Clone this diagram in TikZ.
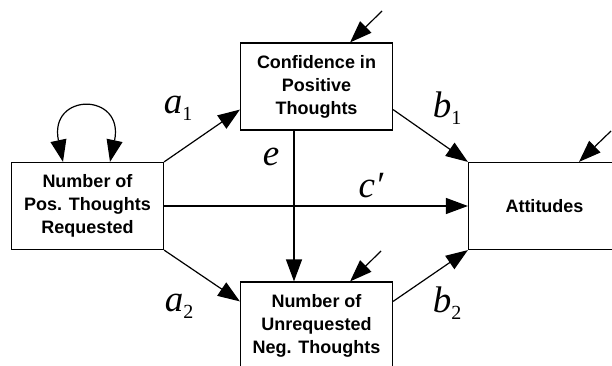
\documentclass[tikz,border=0pt]{standalone}
\usepackage{fontspec}
\setmainfont{Liberation Sans}
\newfontfamily\pathfont{Liberation Serif}
\usetikzlibrary{positioning,arrows.meta,calc}

% path labels: italic letter with lowered index
\newcommand{\pathlab}[2]{{\pathfont\fontsize{37}{37}\selectfont\itshape #1}{\pathfont\fontsize{20}{20}\selectfont\raisebox{-7pt}{#2}}}

\begin{document}
\begin{tikzpicture}[x=1pt,y=1pt,>={Triangle[length=22pt,width=16pt]},line width=1.2pt,
  var/.style={draw,minimum width=152pt,minimum height=87pt,align=center,
    font=\fontsize{18}{23}\selectfont\bfseries},
  lab/.style={inner sep=0pt}]
\useasboundingbox (0,0) rectangle (612,-366);
\node[var] (src) at (87.5,-206) {Number of\\Pos. Thoughts\\Requested};
\node[var] (conf) at (316.5,-86.5) {Confidence in\\Positive\\Thoughts};
\node[var] (unreq) at (316.5,-325.5) {Number of\\Unrequested\\Neg. Thoughts};
\node[var] (att) at (544.5,-206) {Attitudes};
% disturbances
\coordinate (dc) at (382,-11);
\coordinate (du) at (381,-251);
\coordinate (da) at (611,-131);
\draw[->] (dc) -- ([xshift=-43pt]conf.north east);
\draw[->] (du) -- ([xshift=-43pt]unreq.north east);
\draw[->] (da) -- ([xshift=34.5pt]att.north);
% variance of the manipulated factor
\draw[<->] ([xshift=-24.5pt]src.north) to[out=102,in=78,looseness=3.9] ([xshift=22.5pt]src.north);
% paths
\draw[->] (src.north east) -- ([yshift=21pt]conf.south west);
\draw[->] (src.south east) -- ([yshift=-20pt]unreq.north west);
\draw[->] ([yshift=21pt]conf.south east) -- (att.north west);
\draw[->] ([yshift=-20pt]unreq.north east) -- (att.south west);
\draw[->] (src.east) -- (att.west);
\draw[->] ([xshift=-22.5pt]conf.south) -- ([xshift=-22.5pt]unreq.north);
\node[lab] (la1) at (178,-108) {\pathlab{a}{1}};
\node[lab] (la2) at (179,-306) {\pathlab{a}{2}};
\node[lab] (lb1) at (447,-108) {\pathlab{b}{1}};
\node[lab] (lb2) at (447,-303) {\pathlab{b}{2}};
\node[lab] (le) at (271,-160) {\pathlab{e}{}};
\node[lab] (lc) at (371,-186) {{\pathfont\fontsize{37}{37}\selectfont\itshape c′}};
\end{tikzpicture}
\end{document}
